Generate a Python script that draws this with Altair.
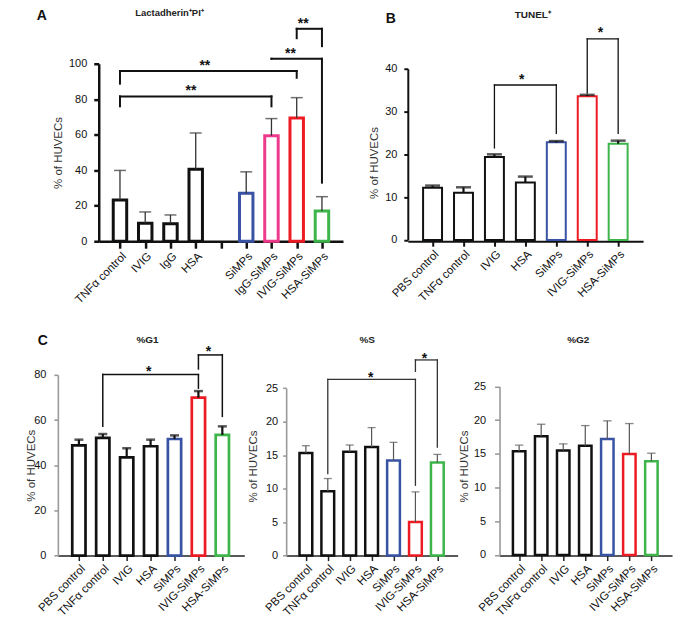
import json
import altair as alt
import pandas as pd

FONT = "Liberation Sans"

# ---------------- Panel A : Lactadherin+PI+ ----------------
A_CATS = ["TNFα control", "IVIG", "IgG", "HSA", "", "SiMPs", "IgG-SiMPs", "IVIG-SiMPs", "HSA-SiMPs"]
A_MEAN = [23.2, 10.1, 9.9, 40.6, None, 27.0, 59.4, 69.5, 17.0]
A_ERR = [39.9, 16.5, 14.8, 61.0, None, 39.1, 69.1, 80.9, 25.1]
A_BR_X1 = [0, 0, 6, 7]
A_BR_X2 = [6, 7, 8, 8]
A_BR_Y = [81.6, 95.9, 102.8, 119.7]
A_BR_YL = [76.0, 88.8, 102.8, 114.4]
A_BR_YR = [76.0, 92.1, 33.0, 109.9]
A_STARS = ["**", "**", "**", "**"]
A_STAR_X = [2.81, 3.36, 6.75, 7.26]
A_YTICKS = [0, 20, 40, 60, 80, 100]

# ---------------- Panel B : TUNEL+ ----------------
B_CATS = ["PBS control", "TNFα control", "IVIG", "HSA", "SiMPs", "IVIG-SiMPs", "HSA-SiMPs"]
B_MEAN = [12.2, 11.0, 19.4, 13.4, 22.8, 33.6, 22.5]
B_ERR = [12.7, 12.3, 20.0, 14.8, 23.1, 33.9, 23.2]
B_BR_X1 = [2, 5]
B_BR_X2 = [4, 6]
B_BR_Y = [36.2, 47.0]
B_BR_YL = [21.5, 34.3]
B_BR_YR = [24.9, 24.9]
B_STARS = ["*", "*"]
B_STAR_X = [2.88, 5.43]
B_YTICKS = [0, 10, 20, 30, 40]

# ---------------- Panel C : cell cycle ----------------
C_CATS = ["PBS control", "TNFα control", "IVIG", "HSA", "SiMPs", "IVIG-SiMPs", "HSA-SiMPs"]

G1_MEAN = [48.8, 52.1, 43.5, 48.4, 51.6, 69.9, 53.4]
G1_ERR = [51.3, 53.8, 47.5, 51.3, 53.2, 72.8, 57.2]
G1_BR_X1 = [1, 5]
G1_BR_X2 = [5, 6]
G1_BR_Y = [80.1, 88.8]
G1_BR_YL = [57.2, 82.6]
G1_BR_YR = [74.1, 61.6]
G1_STARS = ["*", "*"]
G1_STAR_X = [2.92, 5.42]
G1_YTICKS = [0, 20, 40, 60, 80]

S_MEAN = [15.3, 9.6, 15.5, 16.2, 14.2, 5.0, 13.9]
S_ERR = [16.4, 11.5, 16.5, 19.1, 16.9, 9.5, 15.1]
S_BR_X1 = [1, 5]
S_BR_X2 = [5, 6]
S_BR_Y = [26.3, 29.2]
S_BR_YL = [12.25, 27.5]
S_BR_YR = [10.5, 16.2]
S_STARS = ["*", "*"]
S_STAR_X = [2.96, 5.41]
S_YTICKS = [0, 5, 10, 15, 20, 25]

G2_MEAN = [15.4, 17.6, 15.5, 16.2, 17.2, 15.0, 13.9]
G2_ERR = [16.3, 19.4, 16.5, 19.2, 19.9, 19.5, 15.1]
G2_YTICKS = [0, 5, 10, 15, 20, 25]

# colours (style)
BLACK = "#111111"
BLUE = "#3953a4"
PINK = "#ee3a8c"
RED = "#ed1c24"
GREEN_A = "#3db54a"
GREEN = "#6cbf4a"


def panel(cats, mean, err, colors, yticks, st, br=None, stars=None,
          title="", letter=None):
    idx = list(range(len(cats)))
    bars = pd.DataFrame({"idx": idx, "cat": cats, "mean": mean, "err": err}).dropna()

    xs_kw = dict(domain=st["xdom"], nice=False, zero=False)
    if "xrange" in st:
        xs_kw["range"] = st["xrange"]
    ys_kw = dict(domain=st["ydom"], nice=False)
    if "yrange" in st:
        ys_kw["range"] = st["yrange"]
    xscale = alt.Scale(**xs_kw)
    yscale = alt.Scale(**ys_kw)

    xaxis = alt.Axis(
        values=idx,
        labelExpr=json.dumps(cats, ensure_ascii=False) + "[datum.value]",
        labelAngle=-45, labelOverlap=False, labelFlush=False, title=None,
        grid=False, tickSize=st["xtick"], tickWidth=st["xaw"], tickColor=st["xac"],
        domainColor=st["xac"], domainWidth=st["xaw"], labelFontSize=11.5,
        labelFont=FONT, labelColor="#111", labelPadding=2,
    )
    ya_kw = dict(
        values=yticks, title="% of HUVECs", grid=False,
        tickSize=st["ytick"], tickWidth=st["yaw"], tickColor=st["yac"],
        domainColor=st["yac"], domainWidth=st["yaw"], labelFontSize=11,
        labelFont=FONT, labelColor="#111", labelPadding=st["ylp"],
        titleFont=FONT, titleFontSize=11.5, titleFontWeight="normal",
        titleColor="#333", titleX=st["titleX"],
    )
    if "yoffset" in st:
        ya_kw["offset"] = st["yoffset"]
    if "titleY" in st:
        ya_kw["titleY"] = st["titleY"]
    yaxis = alt.Axis(**ya_kw)

    def X(f):
        return alt.X(f"{f}:Q", scale=xscale, axis=xaxis)

    def Y(f):
        return alt.Y(f"{f}:Q", scale=yscale, axis=yaxis)

    layers = []
    layers.append(
        alt.Chart(bars).mark_bar(size=st["bw"], fill="white", strokeWidth=st["bsw"]).encode(
            x=X("idx"), y=Y("mean"),
            stroke=alt.Stroke("cat:N", scale=alt.Scale(domain=list(bars["cat"]), range=colors), legend=None),
        )
    )
    layers.append(
        alt.Chart(bars).mark_rule(color=st["ecol"], strokeWidth=st["ew"]).encode(
            x=X("idx"), y=Y("mean"), y2="err:Q")
    )
    layers.append(
        alt.Chart(bars).mark_tick(orient="horizontal", size=st["capw"], thickness=st["capt"],
                                  color=st["ecol"]).encode(x=X("idx"), y=Y("err"))
    )
    if br is not None:
        brk = pd.DataFrame({"x1": br[0], "x2": br[1], "y": br[2], "yl": br[3], "yr": br[4]})
        rk = dict(color=st["bcol"], strokeWidth=st["brw"], strokeCap="square")
        layers.append(alt.Chart(brk).mark_rule(**rk).encode(x=X("x1"), x2="x2:Q", y=Y("y")))
        layers.append(alt.Chart(brk).mark_rule(**rk).encode(x=X("x1"), y=Y("yl"), y2="y:Q"))
        layers.append(alt.Chart(brk).mark_rule(**rk).encode(x=X("x2"), y=Y("yr"), y2="y:Q"))
        sdf = pd.DataFrame({"sx": stars[1], "y": br[2], "star": stars[0]})
        layers.append(
            alt.Chart(sdf).mark_text(font=FONT, fontSize=14, fontWeight="bold", baseline="alphabetic",
                                     dy=st["sdy"], color=BLACK).encode(x=X("sx"), y=Y("y"), text="star:N")
        )
    if letter is not None:
        layers.append(
            alt.Chart(pd.DataFrame({"t": [letter]})).mark_text(
                font=FONT, fontSize=14, fontWeight="bold", align="center", baseline="middle", color=BLACK
            ).encode(x=alt.value(st["lx"]), y=alt.value(st["ly"]), text="t:N")
        )
    return alt.layer(*layers).properties(
        width=st["W"], height=st["H"],
        title=alt.Title(title, font=FONT, fontSize=st["tfs"], fontWeight="bold", color="#222",
                        anchor="middle", frame="group", dx=st["tdx"], dy=st["tdy"]),
    )


stA = dict(xdom=[-0.644, 8.636], xrange=[41, 286], W=286, H=178, ydom=[0, 100],
           yoffset=-41, titleX=-35, bw=13.5, bsw=3, ecol="#333", ew=1.3, capw=12, capt=1.5,
           bcol=BLACK, brw=2, sdy=-1, yac=BLACK, yaw=2.5, ytick=5, ylp=7, xac=BLACK, xaw=2.5, xtick=7,
           lx=-16, ly=-47.5, tfs=9.5, tdx=-31, tdy=12)
stB = dict(xdom=[-0.639, 6.645], W=236, H=178, ydom=[0, 40], yrange=[176.7, 5],
           titleX=-28, titleY=99, bw=19, bsw=2, ecol=BLACK, ew=2.2, capw=15, capt=2.5,
           bcol=BLACK, brw=1.3, sdy=-1.5, yac=BLACK, yaw=2, ytick=4, ylp=7, xac=BLACK, xaw=2, xtick=5,
           lx=-17, ly=-45, tfs=10, tdx=7.4, tdy=12)
stC1 = dict(xdom=[-0.671, 6.71], W=187, H=181.3, ydom=[0, 80],
            titleX=-21, bw=13.3, bsw=2.7, ecol=BLACK, ew=2.2, capw=9, capt=2.5,
            bcol=BLACK, brw=1.5, sdy=1, yac="#9a9a9a", yaw=1.6, ytick=4, ylp=8, xac="#222", xaw=1.5, xtick=5,
            lx=-15, ly=-33.5, tfs=10, tdx=-3.5, tdy=15)
stC2 = dict(xdom=[-0.672, 6.70], W=172, H=181.3, ydom=[0, 25], yrange=[181.3, 13.3],
            titleX=-28, titleY=91.5, bw=12.8, bsw=2.5, ecol="#555", ew=1.2, capw=8, capt=1.3,
            bcol="#333", brw=1.3, sdy=3, yac="#9a9a9a", yaw=1.6, ytick=3.5, ylp=5, xac="#222", xaw=1.5, xtick=5,
            tfs=10, tdx=-4.8, tdy=-2.5)
stC3 = dict(xdom=[-0.664, 6.71], W=173, H=181.3, ydom=[0, 25], yrange=[180.7, 11.7],
            titleX=-30, titleY=91.5, bw=12.5, bsw=2.5, ecol="#555", ew=1.2, capw=8.5, capt=1.3,
            yac="#9a9a9a", yaw=1.6, ytick=5, ylp=9, xac="#222", xaw=1.5, xtick=5,
            tfs=10, tdx=-7.5, tdy=-25.5)

A_COLORS = [BLACK, BLACK, BLACK, BLACK, BLUE, PINK, RED, GREEN_A]
BC_COLORS = [BLACK, BLACK, BLACK, BLACK, BLUE, RED, GREEN]

pA = panel(A_CATS, A_MEAN, A_ERR, A_COLORS, A_YTICKS, stA,
           br=(A_BR_X1, A_BR_X2, A_BR_Y, A_BR_YL, A_BR_YR), stars=(A_STARS, A_STAR_X),
           title="Lactadherin⁺PI⁺", letter="A")
pB = panel(B_CATS, B_MEAN, B_ERR, BC_COLORS, B_YTICKS, stB,
           br=(B_BR_X1, B_BR_X2, B_BR_Y, B_BR_YL, B_BR_YR), stars=(B_STARS, B_STAR_X),
           title="TUNEL⁺", letter="B")
pC1 = panel(C_CATS, G1_MEAN, G1_ERR, BC_COLORS, G1_YTICKS, stC1,
            br=(G1_BR_X1, G1_BR_X2, G1_BR_Y, G1_BR_YL, G1_BR_YR), stars=(G1_STARS, G1_STAR_X),
            title="%G1", letter="C")
pC2 = panel(C_CATS, S_MEAN, S_ERR, BC_COLORS, S_YTICKS, stC2,
            br=(S_BR_X1, S_BR_X2, S_BR_Y, S_BR_YL, S_BR_YR), stars=(S_STARS, S_STAR_X),
            title="%S")
pC3 = panel(C_CATS, G2_MEAN, G2_ERR, BC_COLORS, G2_YTICKS, stC3, title="%G2")

top = alt.hconcat(pA, pB, spacing=65, bounds="flush")
bottom = alt.hconcat(pC1, pC2, pC3, spacing=42, bounds="flush")

chart = (
    alt.vconcat(top, bottom, spacing=28)
    .properties(padding={"left": 18, "top": -1, "right": 5, "bottom": 5})
    .configure(font=FONT, background="white")
    .configure_view(stroke=None)
)

chart.save("out.html", embed_options={"renderer": "svg", "actions": False})
